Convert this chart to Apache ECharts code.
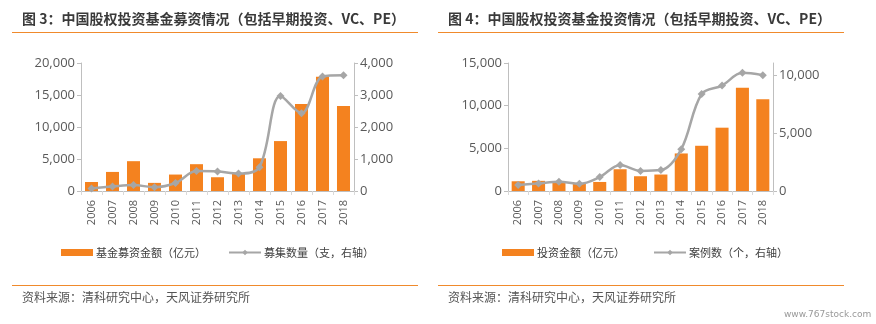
<!DOCTYPE html>
<html>
<head>
<meta charset="utf-8">
<script src="https://cdn.jsdelivr.net/npm/echarts@6/dist/echarts.min.js"></script>
<style>
html,body{margin:0;padding:0;background:#fff;}
#c{width:876px;height:324px;}
</style>
</head>
<body>
<div id="c"></div>
<script>
const categories = ['2006','2007','2008','2009','2010','2011','2012','2013','2014','2015','2016','2017','2018'];
const fundraisingAmount = [1410, 2980, 4660, 1270, 2570, 4190, 2150, 2700, 5110, 7800, 13600, 17850, 13300];
const fundCount = [75, 138, 185, 120, 250, 625, 612, 546, 745, 2965, 2430, 3575, 3615];
const investAmount = [1140, 1190, 1080, 820, 1060, 2550, 1730, 1930, 4400, 5300, 7420, 12090, 10760];
const investCases = [510, 660, 800, 620, 1210, 2250, 1740, 1810, 3620, 8400, 9130, 10230, 10030];
const leftTicks1 = [0, 5000, 10000, 15000, 20000];
const rightTicks1 = [0, 1000, 2000, 3000, 4000];
const leftTicks2 = [0, 5000, 10000, 15000];
const rightTicks2 = [0, 5000, 10000];

const ORANGE = '#F4821F';
const GRAY = '#A6A6A6';
const AXIS = '#BFBFBF';
const LABEL = '#595959';
const NUMFONT = '"Open Sans","Noto Sans CJK SC",sans-serif';
const CJK = '"Noto Sans CJK SC",sans-serif';

function fmt(v){ return String(v).replace(/\B(?=(\d{3})+(?!\d))/g, ','); }

function valueAxis(gridIndex, max, interval, ticks, position){
  return {
    type: 'value', gridIndex, position, min: 0, max, interval,
    splitLine: {show: false},
    axisLine: {show: true, lineStyle: {color: AXIS, width: 1}},
    axisTick: {show: true, length: 4, lineStyle: {color: AXIS}, customValues: ticks},
    axisLabel: {color: LABEL, fontSize: 13, fontFamily: NUMFONT, margin: 6,
      customValues: ticks, formatter: fmt}
  };
}
function catAxis(gridIndex){
  return {
    type: 'category', gridIndex, data: categories, boundaryGap: true,
    axisLine: {show: true, lineStyle: {color: AXIS, width: 1}},
    axisTick: {show: true, length: 4, alignWithLabel: false, lineStyle: {color: '#D9D9D9'}},
    axisLabel: {rotate: 90, color: LABEL, fontSize: 11, fontFamily: NUMFONT, margin: 9, interval: 0}
  };
}

const chart = echarts.init(document.getElementById('c'), null, {renderer: 'canvas'});
chart.setOption({
  animation: false,
  backgroundColor: '#fff',
  title: [
    {text: '图 3：中国股权投资基金募资情况（包括早期投资、VC、PE）', left: 22, top: 12, padding: 0,
      textStyle: {fontSize: 14, fontWeight: 'bold', color: '#3A3A3A', fontFamily: CJK}},
    {text: '图 4：中国股权投资基金投资情况（包括早期投资、VC、PE）', left: 448, top: 12, padding: 0,
      textStyle: {fontSize: 14, fontWeight: 'bold', color: '#3A3A3A', fontFamily: CJK}},
    {text: '资料来源：清科研究中心，天风证券研究所', left: 22, top: 291, padding: 0,
      textStyle: {fontSize: 12, fontWeight: 'normal', color: '#555', fontFamily: CJK}},
    {text: '资料来源：清科研究中心，天风证券研究所', left: 448, top: 291, padding: 0,
      textStyle: {fontSize: 12, fontWeight: 'normal', color: '#555', fontFamily: CJK}}
  ],
  graphic: [
    {type: 'line', shape: {x1: 12, y1: 32.5, x2: 418, y2: 32.5}, style: {stroke: '#F08A2C', lineWidth: 1}},
    {type: 'line', shape: {x1: 438, y1: 32.5, x2: 844, y2: 32.5}, style: {stroke: '#F08A2C', lineWidth: 1}},
    {type: 'line', shape: {x1: 12, y1: 285.5, x2: 418, y2: 285.5}, style: {stroke: '#F08A2C', lineWidth: 1}},
    {type: 'line', shape: {x1: 438, y1: 285.5, x2: 844, y2: 285.5}, style: {stroke: '#F08A2C', lineWidth: 1}},
    {type: 'text', left: 784, top: 310, style: {text: 'www.767stock.com', fill: '#999', fontSize: 9, fontFamily: '"DejaVu Sans",sans-serif'}}
  ],
  legend: [
    {left: 56, top: 242, itemWidth: 32, itemHeight: 7, itemGap: 22,
      data: [{name: '基金募资金额（亿元）', icon: 'rect'}, '募集数量（支，右轴）'],
      textStyle: {fontSize: 11, color: '#404040', fontFamily: CJK, padding: [0,0,0,-2]}},
    {left: 497, top: 242, itemWidth: 32, itemHeight: 7, itemGap: 28,
      data: [{name: '投资金额（亿元）', icon: 'rect'}, '案例数（个，右轴）'],
      textStyle: {fontSize: 11, color: '#404040', fontFamily: CJK, padding: [0,0,0,-2]}}
  ],
  grid: [
    {left: 81, right: 522, top: 63, bottom: 133},
    {left: 508, right: 103, top: 63, bottom: 133}
  ],
  xAxis: [catAxis(0), catAxis(1)],
  yAxis: [
    valueAxis(0, 20000, 5000, leftTicks1, 'left'),
    valueAxis(0, 4000, 1000, rightTicks1, 'right'),
    valueAxis(1, 15000, 5000, leftTicks2, 'left'),
    valueAxis(1, 11080, 5000, rightTicks2, 'right')
  ],
  series: [
    {name: '基金募资金额（亿元）', type: 'bar', xAxisIndex: 0, yAxisIndex: 0, data: fundraisingAmount,
      barWidth: '62%', itemStyle: {color: ORANGE}},
    {name: '募集数量（支，右轴）', type: 'line', xAxisIndex: 0, yAxisIndex: 1, data: fundCount,
      smooth: 0.35, symbol: 'diamond', symbolSize: 8, lineStyle: {color: GRAY, width: 2.5},
      itemStyle: {color: GRAY}},
    {name: '投资金额（亿元）', type: 'bar', xAxisIndex: 1, yAxisIndex: 2, data: investAmount,
      barWidth: '64%', itemStyle: {color: ORANGE}},
    {name: '案例数（个，右轴）', type: 'line', xAxisIndex: 1, yAxisIndex: 3, data: investCases,
      smooth: 0.35, symbol: 'diamond', symbolSize: 8, lineStyle: {color: GRAY, width: 2.5},
      itemStyle: {color: GRAY}}
  ]
});
</script>
</body>
</html>
